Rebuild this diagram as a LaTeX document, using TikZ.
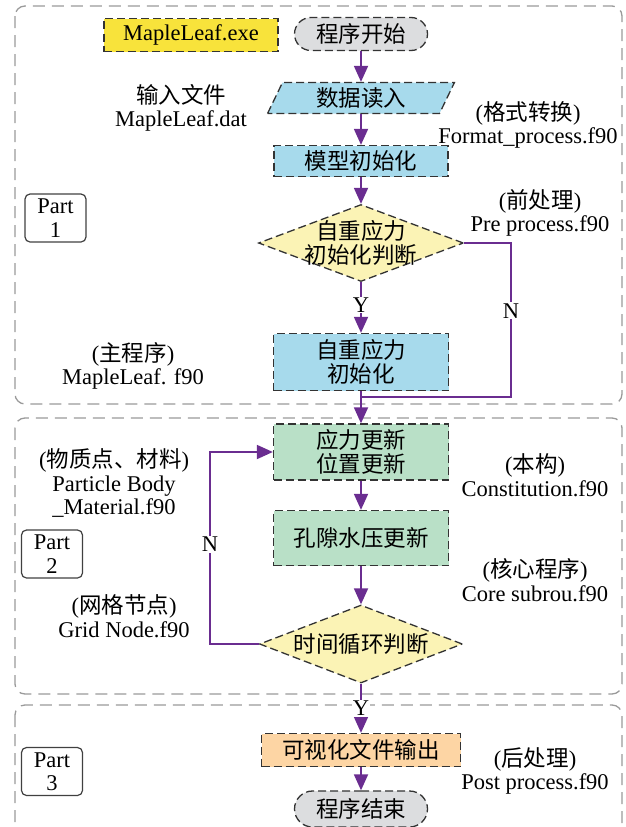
\documentclass[tikz,border=0pt]{standalone}
\usepackage{fontspec}
\setmainfont{Liberation Serif}
\newfontfamily\cjk{Noto Sans CJK SC}
\usepackage{tikz}
\usetikzlibrary{arrows.meta,shapes.geometric,shapes.misc}
\definecolor{exeyellow}{HTML}{F8E33B}
\definecolor{startgray}{HTML}{DCDDDF}
\definecolor{boxblue}{HTML}{A7DAEC}
\definecolor{diayellow}{HTML}{FBF3B5}
\definecolor{boxgreen}{HTML}{B9E0C7}
\definecolor{boxorange}{HTML}{FDD5A4}
\definecolor{flowpurple}{HTML}{6A2D90}
\definecolor{framegray}{HTML}{9A9A9A}

\begin{document}
\begin{tikzpicture}[x=1pt,y=-1pt,
  every node/.style={font=\fontsize{22.5}{23.5}\selectfont,align=center},
  zh/.style={font=\cjk\fontsize{22.5}{23.5}\selectfont},
  flowbox/.style={zh,draw=black!80,line width=1.3pt,dash pattern=on 8pt off 4pt,inner sep=1pt},
  decision/.style={flowbox,diamond,aspect=2.66,inner sep=-6pt,fill=diayellow},
  partbox/.style={draw=black!75,line width=1.2pt,rounded corners=5pt,minimum width=61,minimum height=48,inner sep=0pt},
  frame/.style={draw=framegray,line width=1.3pt,dash pattern=on 12pt off 7pt,rounded corners=10pt},
  flow/.style={draw=flowpurple,line width=1.8pt},
  tip/.style={-{Triangle[width=14pt,length=16pt]}}]
\useasboundingbox (0,0) rectangle (626,827);
\draw[frame] (15,6) rectangle (622,404);
\draw[frame] (15,418) rectangle (622,694);
\draw[frame] (15,705) rectangle (622,850);

% part 1
\node[flowbox,font=\fontsize{22.5}{23.5}\selectfont,fill=exeyellow,minimum width=174,minimum height=33] (exe) at (191,35) {MapleLeaf.exe};
\node[flowbox,rounded rectangle,fill=startgray,minimum width=135,minimum height=33] (start) at (361,34) {程序开始};
\node[flowbox,trapezium,trapezium left angle=69,trapezium right angle=111,trapezium stretches=true,
  fill=boxblue,minimum width=187,minimum height=31] (read) at (361,98) {数据读入};
\node[flowbox,fill=boxblue,minimum width=174,minimum height=31] (init) at (361,161) {模型初始化};
\node[decision,minimum width=205,minimum height=77] (judge1) at (361,243) {自重应力\\初始化判断};
\node[flowbox,fill=boxblue,minimum width=175,minimum height=57] (selfw) at (361,362) {自重应力\\初始化};
\node (inputtxt) at (181,108) {{\cjk 输入文件}\\MapleLeaf.dat};
\node (formattxt) at (528,125) {({\cjk 格式转换})\\Format\_process.f90};
\node (pretxt) at (540,213) {({\cjk 前处理})\\Pre process.f90};
\node (maintxt) at (133,366) {({\cjk 主程序})\\MapleLeaf. f90};
\node[partbox] (part1) at (55.5,218) {Part\\1};

% part 2
\node[flowbox,fill=boxgreen,minimum width=175,minimum height=56] (stress) at (361,452) {应力更新\\位置更新};
\node[flowbox,fill=boxgreen,minimum width=175,minimum height=55] (pore) at (361,538) {孔隙水压更新};
\node[decision,minimum width=203,minimum height=78] (judge2) at (361,644) {时间循环判断};
\node (particletxt) at (114,483) {({\cjk 物质点、材料})\\Particle Body\\\_Material.f90};
\node (consttxt) at (535,475) {({\cjk 本构})\\Constitution.f90};
\node (coretxt) at (535,580) {({\cjk 核心程序})\\Core subrou.f90};
\node (gridtxt) at (124,616) {({\cjk 网格节点})\\Grid Node.f90};
\node[partbox] (part2) at (52,554) {Part\\2};

% part 3
\node[flowbox,fill=boxorange,minimum width=199,minimum height=33] (vis) at (361,750) {可视化文件输出};
\node[flowbox,rounded rectangle,fill=startgray,minimum width=135,minimum height=36] (end) at (361,809) {程序结束};
\node (posttxt) at (535,771) {({\cjk 后处理})\\Post process.f90};
\node[partbox] (part3) at (52,771.5) {Part\\3};

\coordinate (nturn) at (511,397);
\coordinate (loopcorner) at (210,644);
\draw[flow,tip] (start) -- (read);
\draw[flow,tip] (read) -- (init);
\draw[flow,tip] (init) -- (judge1);
\draw[flow,tip] (judge1) -- node[pos=0.45,fill=white,inner sep=1pt] {Y} (selfw);
\draw[flow] (judge1.east) -| node[pos=0.72,fill=white,inner sep=1pt] {N} (nturn) -- (selfw.south |- nturn);
\draw[flow,tip] (selfw) -- (stress);
\draw[flow,tip] (stress) -- (pore);
\draw[flow,tip] (pore) -- (judge2);
\draw[flow,tip] (judge2.west) -- (loopcorner) |- node[pos=0.26,fill=white,inner sep=1pt] {N} (stress.west);
\draw[flow,tip] (judge2) -- node[pos=0.5,fill=white,inner sep=1pt] {Y} (vis);
\draw[flow,tip] (vis) -- (end);
\end{tikzpicture}
\end{document}
